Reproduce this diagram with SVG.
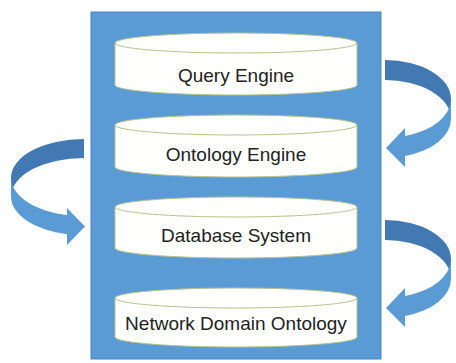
<svg xmlns="http://www.w3.org/2000/svg" width="456" height="363" viewBox="0 0 456 363">
  <style>
    .panel { fill: #5b9bd5; stroke: #4a86c2; stroke-width: 1; }
    .cyl { fill: #fffffd; stroke: #b7c48c; stroke-width: 1; }
    .rim { fill: none; stroke: #b7c48c; stroke-width: 1; }
    .label { font-family: "Liberation Sans", Arial, sans-serif; font-size: 19px; fill: #222222; text-anchor: middle; }
    .back { fill: #4279b3; }
    .front { fill: #5b9bd5; }
  </style>
  <defs>
    <!-- curved arrow looping right then back left -->
    <g id="loop-right">
      <path class="back" d="M385,60 A66,38.9 0 0 1 451,98.9 L451,118.9 A66,38.9 0 0 0 385,80 Z"/>
      <path class="front" d="M451,98.9 A66,38.9 0 0 1 405,136 L405,128 L386,148 L405,167 L405,156 A66,38.9 0 0 0 451,118.9 Z"/>
    </g>
  </defs>

  <rect class="panel" x="91" y="12" width="290" height="347"/>

  <g id="query-engine">
    <path class="cyl" d="M115,43 A121,10 0 0 1 357,43 L357,85 A121,10 0 0 1 115,85 Z"/>
    <path class="rim" d="M115,43 A121,10 0 0 0 357,43"/>
    <text class="label" x="236" y="82">Query Engine</text>
  </g>

  <g id="ontology-engine">
    <path class="cyl" d="M115,125 A121,10 0 0 1 357,125 L357,167 A121,10 0 0 1 115,167 Z"/>
    <path class="rim" d="M115,125 A121,10 0 0 0 357,125"/>
    <text class="label" x="236" y="161">Ontology Engine</text>
  </g>

  <g id="database-system">
    <path class="cyl" d="M115,207 A121,10 0 0 1 357,207 L357,248 A121,10 0 0 1 115,248 Z"/>
    <path class="rim" d="M115,207 A121,10 0 0 0 357,207"/>
    <text class="label" x="236" y="242">Database System</text>
  </g>

  <g id="network-domain-ontology">
    <path class="cyl" d="M115,298 A121,10 0 0 1 357,298 L357,337 A121,10 0 0 1 115,337 Z"/>
    <path class="rim" d="M115,298 A121,10 0 0 0 357,298"/>
    <text class="label" x="236" y="330">Network Domain Ontology</text>
  </g>

  <g id="connectors">
    <!-- left loop: Ontology Engine to Database System -->
    <path class="back" d="M84,139 A73,38.7 0 0 0 11,177.7 L11,196.7 A73,38.7 0 0 1 84,158 Z"/>
    <path class="front" d="M11,177.7 A73,38.7 0 0 0 67,215.3 L67,208 L85,226.5 L67,245 L67,234.3 A73,38.7 0 0 1 11,196.7 Z"/>
    <!-- right loops -->
    <use href="#loop-right"/>
    <use href="#loop-right" transform="translate(0,160)"/>
  </g>
</svg>
